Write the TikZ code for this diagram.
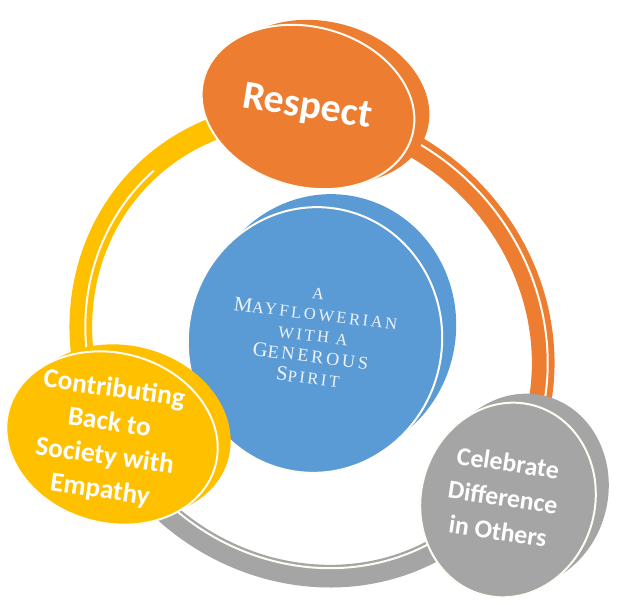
\documentclass[tikz,border=0pt]{standalone}
\usepackage{fontspec}
\setsansfont{Carlito}
\newfontfamily\engr[LetterSpace=16]{Liberation Serif}
\definecolor{RingOrange}{HTML}{ED7D31}
\definecolor{RingBlue}{HTML}{5B9BD5}
\definecolor{RingGray}{HTML}{A5A5A5}
\definecolor{RingGold}{HTML}{FFC000}
\definecolor{SeamWhite}{HTML}{FFFCF4}
\definecolor{PaleText}{HTML}{EEF3FA}
\newcommand{\capsL}{\fontsize{15.5}{16}\selectfont}
\newcommand{\capsM}{\fontsize{13.6}{16}\selectfont}
\newcommand{\capsS}{\fontsize{12.4}{16}\selectfont}
\tikzset{
  band/.style={line width=17pt},
  seam/.style={draw=SeamWhite,line width=1.5pt},
  bigword/.style={text=white,align=center,inner sep=0pt},
  engraved/.style={font=\engr\capsS,text=PaleText,align=center,inner sep=0pt}
}

\begin{document}
\begin{tikzpicture}[x=0.75pt,y=-0.75pt]
  \useasboundingbox (0,0) rectangle (617,605);

  % the ring, three coloured bands
  \begin{scope}[shift={(312,345)},rotate=-45]
    \draw[band,RingGold] ({240*cos(124)},{222*sin(124)})
      arc[start angle=124,end angle=206,x radius=240,y radius=222];
    \draw[seam] ({235.5*cos(124)},{217.5*sin(124)})
      arc[start angle=124,end angle=183,x radius=235.5,y radius=217.5];
    \draw[band,RingOrange] ({240*cos(249)},{222*sin(249)})
      arc[start angle=249,end angle=333,x radius=240,y radius=222];
    \draw[seam] ({244.5*cos(249)},{226.5*sin(249)})
      arc[start angle=249,end angle=333,x radius=244.5,y radius=226.5];
    \draw[band,RingGray] ({240*cos(8)},{222*sin(8)})
      arc[start angle=8,end angle=89,x radius=240,y radius=222];
    \draw[seam] ({232*cos(8)},{214*sin(8)})
      arc[start angle=8,end angle=89,x radius=232,y radius=214];
  \end{scope}

  % discs: back part, then front face
  \fill[RingOrange,rotate around={-15:(323,102)}] (323,102) ellipse[x radius=108,y radius=80];
  \filldraw[fill=RingOrange,seam,rotate around={-15:(308,107)}] (308,107) ellipse[x radius=108,y radius=80];

  \fill[RingBlue,rotate around={-10:(329,327)}] (329,327) ellipse[x radius=127,y radius=133];
  \filldraw[fill=RingBlue,seam,rotate around={-10:(315,340)}] (315,340) ellipse[x radius=127,y radius=133];

  \fill[RingGold,rotate around={-15:(125,431)}] (125,431) ellipse[x radius=107,y radius=85];
  \filldraw[fill=RingGold,seam,rotate around={-15:(112,438)}] (112,438) ellipse[x radius=107,y radius=85];

  \fill[RingGray,rotate around={-15:(521,491)}] (521,491) ellipse[x radius=87,y radius=98];
  \filldraw[fill=RingGray,seam,rotate around={-15:(508,500)}] (508,500) ellipse[x radius=87,y radius=98];

  % labels
  \node[bigword,font=\sffamily\bfseries\fontsize{30}{36}\selectfont,rotate=-9]
    (respect) at (307,108) {Respect};
  \node[engraved,rotate=-7] (spirit) at (313,336)
    {A\\{\capsL M}AYFLOWERIAN\\WITH A\\{\capsL G}{\capsM ENEROUS}\\{\capsL S}PIRIT};
  \node[bigword,font=\sffamily\bfseries\fontsize{20.5}{25.5}\selectfont,rotate=-8]
    (society) at (107,440) {Contributing\\Back to\\Society with\\Empathy};
  \node[bigword,font=\sffamily\bfseries\fontsize{19.4}{26}\selectfont,rotate=-8.5]
    (celebrate) at (503,497) {Celebrate\\Difference\\in Others};
\end{tikzpicture}
\end{document}
